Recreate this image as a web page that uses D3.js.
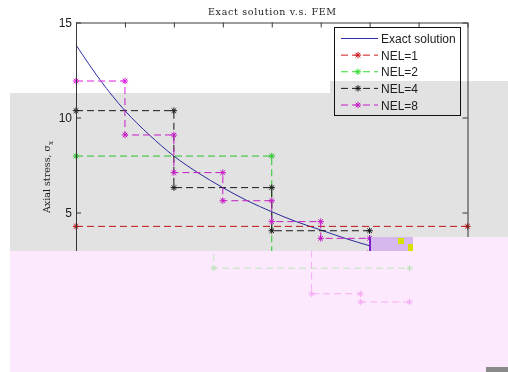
<!DOCTYPE html>
<html>
<head>
<meta charset="utf-8">
<script src="https://cdn.jsdelivr.net/npm/d3@7"></script>
<style>
  body { margin: 0; background: #fff; }
  svg { display: block; }
</style>
</head>
<body>
<div id="chart"></div>
<script>
// bar length (x axis runs over 8 units, ticks every unit)
const barLength = 8;
const xTicks = [0, 1, 2, 3, 4, 5, 6, 7, 8];
const yTicks = [0, 5, 10, 15];

// exact solution
const exactX = [0, 0.5, 1, 1.5, 2, 2.5, 3, 3.5, 4, 4.5, 5, 5.5, 6, 7, 8];
const exactY = [13.82, 11.95, 10.36, 9.08, 7.97, 7.08, 6.31, 5.62, 5.04, 4.52, 4.08, 3.64, 3.25, 2.65, 2.15];

// element stresses (constant per element)
const nel1 = [4.27];
const nel2 = [7.97, 2.7];
const nel4 = [10.36, 6.31, 4.04, 2.65];
const nel8 = [11.92, 9.08, 7.10, 5.62, 4.52, 3.64, 2.88, 2.45];

const seriesNames = ["NEL=1", "NEL=2", "NEL=4", "NEL=8"];
const seriesValues = [nel1, nel2, nel4, nel8];
const seriesColors = ["#d01818", "#30dd30", "#1a1a1a", "#e020e0"];

let width = 508;
let height = 372;

let svg = d3.select('#chart')
  .append("svg")
  .attr("width", width)
  .attr("height", height);

let x = d3.scaleLinear().domain([0, barLength]).range([76, 467.5]);
let y = d3.scaleLinear().domain([0, 15]).range([307.5, 22.5]);

// plot background
svg.append("rect")
  .attr("x", x(0)).attr("y", y(15))
  .attr("width", x(barLength) - x(0)).attr("height", y(0) - y(15))
  .attr("fill", "#fff");

function stepPoints(vals, fromElem) {
  let n = vals.length;
  let pts = [];
  vals.forEach(function (v, e) {
    if (e < (fromElem || 0)) return;
    pts.push([e * barLength / n, v]);
    pts.push([(e + 1) * barLength / n, v]);
  });
  return pts;
}

let line = d3.line()
  .x(function (d) { return x(d[0]); })
  .y(function (d) { return y(d[1]); });

let star = "M-3.2,0H3.2M0,-3.2V3.2M-2.3,-2.3L2.3,2.3M-2.3,2.3L2.3,-2.3";

// exact solution
let plot = svg.append("g");
plot.append("path")
  .datum(exactX.map(function (d, i) { return [d, exactY[i]]; }))
  .attr("d", d3.line().curve(d3.curveMonotoneX)
    .x(function (d) { return x(d[0]); })
    .y(function (d) { return y(d[1]); }))
  .attr("fill", "none")
  .attr("stroke", "#2e2eb0")
  .attr("stroke-width", 1);

function drawSeries(g, pts, color, lead) {
  let linePts = lead ? [[pts[0][0], 15]].concat(pts) : pts;
  g.append("path")
    .datum(linePts)
    .attr("d", line)
    .attr("fill", "none")
    .attr("stroke", color)
    .attr("stroke-width", 1)
    .attr("stroke-dasharray", "7,4");
  g.selectAll(null)
    .data(pts)
    .enter()
    .append("path")
    .attr("d", star)
    .attr("transform", function (d) { return "translate(" + x(d[0]) + "," + y(d[1]) + ")"; })
    .attr("stroke", color)
    .attr("stroke-width", 1)
    .attr("fill", "none");
}

seriesValues.forEach(function (vals, i) {
  drawSeries(plot, stepPoints(vals), seriesColors[i]);
});

// axes (MATLAB style, ticks inside)
let axisColor = "#3a3a3a";
let gLeft = svg.append("g").attr("transform", "translate(" + x(0) + ",0)")
  .call(d3.axisLeft(y).tickValues(yTicks).tickSizeInner(-5).tickSizeOuter(0).tickPadding(4));
let gRight = svg.append("g").attr("transform", "translate(" + x(barLength) + ",0)")
  .call(d3.axisRight(y).tickValues(yTicks).tickSizeInner(-5).tickSizeOuter(0).tickFormat(""));
let gTop = svg.append("g").attr("transform", "translate(0," + y(15) + ")")
  .call(d3.axisTop(x).tickValues(xTicks).tickSizeInner(-5).tickSizeOuter(0).tickFormat(""));
let gBottom = svg.append("g").attr("transform", "translate(0," + y(0) + ")")
  .call(d3.axisBottom(x).tickValues(xTicks).tickSizeInner(-5).tickSizeOuter(0).tickPadding(4));

[gLeft, gRight, gTop, gBottom].forEach(function (g) {
  g.selectAll("path.domain").attr("stroke", axisColor);
  g.selectAll(".tick line").attr("stroke", axisColor);
  g.selectAll(".tick text")
    .attr("font-family", "Liberation Sans, Arial, sans-serif")
    .attr("font-size", 12)
    .attr("fill", "#222");
});

// title and y label
svg.append("text")
  .attr("x", 272).attr("y", 15)
  .attr("text-anchor", "middle")
  .attr("font-family", "DejaVu Serif, serif")
  .attr("font-size", 9.5)
  .attr("textLength", 128)
  .attr("fill", "#222")
  .text("Exact solution v.s. FEM");

let ylab = svg.append("text")
  .attr("transform", "translate(50,177) rotate(-90)")
  .attr("text-anchor", "middle")
  .attr("font-family", "DejaVu Serif, serif")
  .attr("font-size", 9.5)
  .attr("fill", "#222");
ylab.append("tspan").text("Axial stress, σ");
ylab.append("tspan").attr("font-size", 7).attr("dy", 2.5).text("x");

// legend
let legend = svg.append("g");
legend.append("rect")
  .attr("x", 334.5).attr("y", 27.5)
  .attr("width", 126).attr("height", 88)
  .attr("fill", "#fff")
  .attr("stroke", "#111")
  .attr("stroke-width", 1);

let legendNames = ["Exact solution"].concat(seriesNames);
let legendColors = ["#2e2eb0"].concat(seriesColors);
let legendRow = d3.scaleLinear().domain([0, 4]).range([38.5, 105]);

legendNames.forEach(function (name, i) {
  let ly = legendRow(i);
  legend.append("line")
    .attr("x1", 341).attr("x2", 378)
    .attr("y1", ly).attr("y2", ly)
    .attr("stroke", legendColors[i])
    .attr("stroke-width", 1)
    .attr("stroke-dasharray", i === 0 ? null : "7,4");
  if (i > 0) {
    legend.append("path")
      .attr("d", star)
      .attr("transform", "translate(358," + ly + ")")
      .attr("stroke", legendColors[i])
      .attr("fill", "none");
  }
  legend.append("text")
    .attr("x", 381).attr("y", ly + 4.5)
    .attr("font-family", "Liberation Sans, Arial, sans-serif")
    .attr("font-size", 12)
    .attr("fill", "#222")
    .text(name);
});

// grey band (multiplied over everything)
svg.append("path")
  .attr("d", "M10,93H330V81H508V251H10Z")
  .attr("fill", "#e2e2e2")
  .style("mix-blend-mode", "multiply");

// pink damaged region
svg.append("path")
  .attr("d", "M10,251H369V237H508V372H10Z")
  .attr("fill", "#fde9fd");

svg.append("rect")
  .attr("x", 369).attr("y", 237).attr("width", 44).attr("height", 14)
  .attr("fill", "#d6b8ee");
svg.append("rect")
  .attr("x", 369).attr("y", 237).attr("width", 2).attr("height", 14)
  .attr("fill", "#7a20c8");
svg.append("rect")
  .attr("x", 398).attr("y", 238).attr("width", 6).attr("height", 6)
  .attr("fill", "#d8e000");
svg.append("rect")
  .attr("x", 408).attr("y", 244).attr("width", 5).attr("height", 7)
  .attr("fill", "#d8e000");

// faint ghosts of the hidden elements inside the pink region
svg.append("clipPath").attr("id", "ghostClip")
  .append("rect").attr("x", 10).attr("y", 251).attr("width", 403).attr("height", 121);
let ghost = svg.append("g").attr("clip-path", "url(#ghostClip)").attr("opacity", 0.3);
drawSeries(ghost.append("g").attr("transform", "translate(-58,12)"), stepPoints(nel2, 1), seriesColors[1], true);
drawSeries(ghost.append("g").attr("transform", "translate(-58,41)"), stepPoints(nel8, 6), seriesColors[3], true);

svg.append("rect")
  .attr("x", 486).attr("y", 367).attr("width", 22).attr("height", 5)
  .attr("fill", "#8a8a8a");
</script>
</body>
</html>
